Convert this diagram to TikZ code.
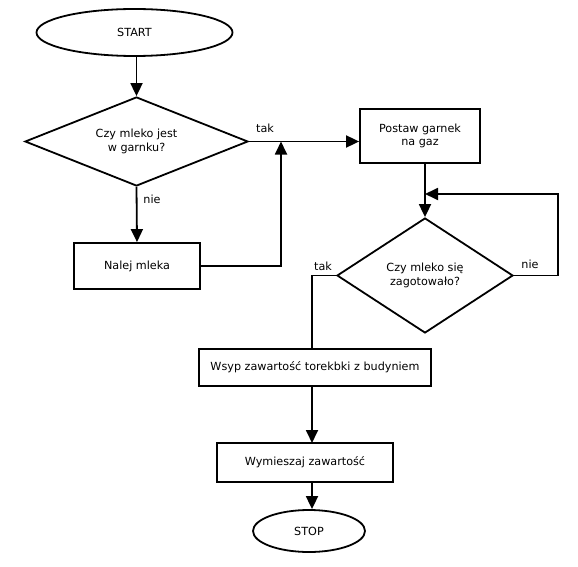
\documentclass[tikz,border=0pt]{standalone}
\usepackage{fontspec}
\setmainfont{DejaVu Sans}
\usetikzlibrary{shapes.geometric,arrows.meta}
\begin{document}
\begin{tikzpicture}[x=1pt,y=-1pt,
  every node/.style={font=\fontsize{11.2}{13.5}\selectfont, align=center},
  shp/.style={draw, line width=1.8pt, inner sep=0pt},
  term/.style={shp, ellipse},
  proc/.style={shp, rectangle},
  dec/.style={shp, diamond},
  conn/.style={line width=1.8pt},
  arr/.style={conn, -{Triangle[length=13pt,width=12pt]}},
  lbl/.style={inner sep=1pt}]
\useasboundingbox (0,0) rectangle (578,567);
\node[term, minimum width=196pt, minimum height=47pt] (start) at (134.5,32.5) {START};
\node[dec, shape aspect=2.5, minimum width=223pt, minimum height=89pt] (d1) at (136.5,141.5) {Czy mleko jest\\w garnku?};
\node[proc, minimum width=120pt, minimum height=54pt] (postaw) at (420,136) {Postaw garnek\\na gaz};
\node[proc, minimum width=126pt, minimum height=46pt] (nalej) at (137,266) {Nalej mleka};
\node[dec, shape aspect=1.53, minimum width=176pt, minimum height=115pt] (d2) at (425,275.5) {Czy mleko się\\zagotowało?};
\node[proc, minimum width=232pt, minimum height=37pt] (wsyp) at (315,367.5) {Wsyp zawartość torekbki z budyniem};
\node[proc, minimum width=176pt, minimum height=39pt] (wym) at (305,462.5) {Wymieszaj zawartość};
\node[term, minimum width=112pt, minimum height=42pt] (stop) at (309,531) {STOP};

\coordinate (j1) at (281,141.5);
\coordinate (j2) at (425,194);
\coordinate (wsypn) at (312,349);
\coordinate (wsyps) at (312,386);
\coordinate (wymn) at (312,443);
\coordinate (wyms) at (312,482);

\draw[arr] (start.south -| d1.north) -- (d1.north);
\draw[arr] (d1.south) -- (nalej.north);
\draw[arr] (d1.east) -- (d1.east -| postaw.west);
\draw[arr] (nalej.east) -| (j1);
\draw[arr] (d2.north |- postaw.south) -- (d2.north);
\draw[arr] (d2.east) -- ++(44,0) |- (j2);
\draw[conn] (d2.west) -| (wsypn);
\draw[arr] (wsyps) -- (wymn);
\draw[arr] (wyms) -- (stop.north -| wyms);

\node[lbl] (l1) at (265,128) {tak};
\node[lbl] (l2) at (152,199) {nie};
\node[lbl] (l3) at (323,266) {tak};
\node[lbl] (l4) at (530,264) {nie};
\end{tikzpicture}
\end{document}
